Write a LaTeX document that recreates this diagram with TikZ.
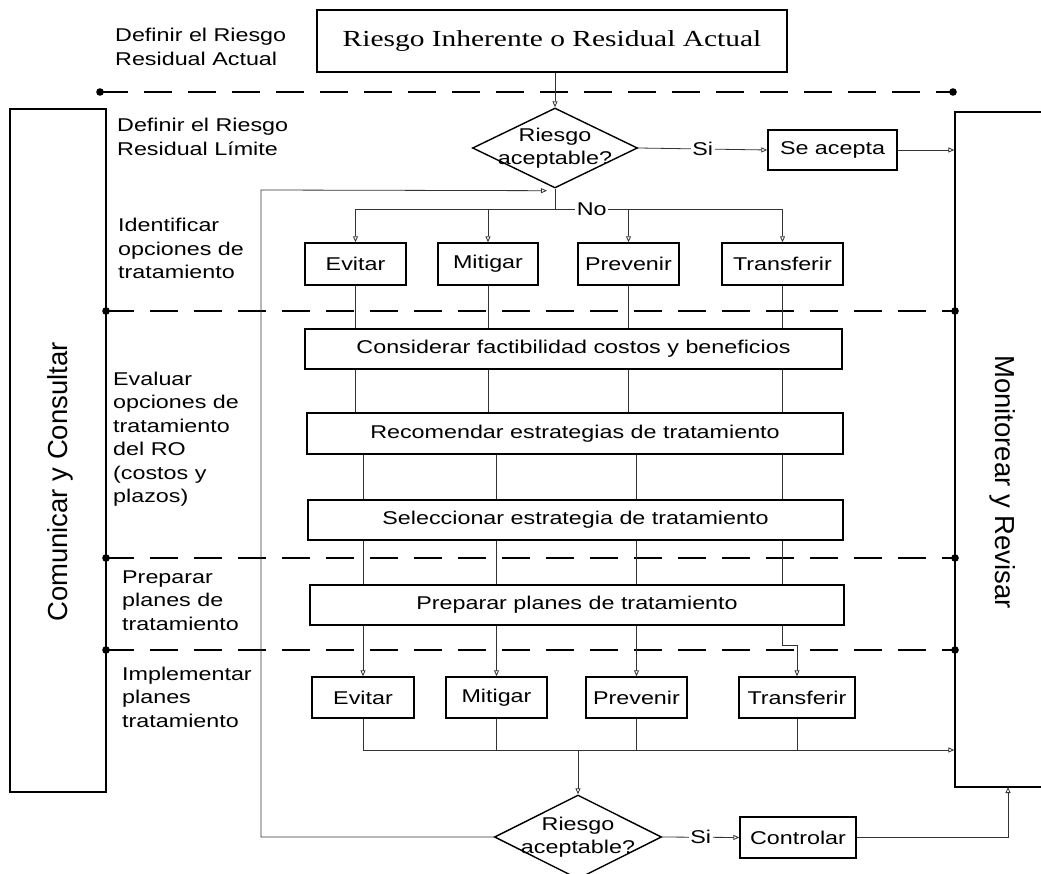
\documentclass[tikz,border=0pt]{standalone}
\usepackage{fontspec}
\setmainfont[FakeStretch=1.26]{Liberation Sans}
\newfontfamily\plainsans{Liberation Sans}
\newfontfamily\wserif[FakeStretch=1.28]{Liberation Serif}
\usetikzlibrary{shapes.geometric,arrows.meta,calc}
\newcommand\ztext[1]{\makebox[0pt]{\raisebox{-4.6pt}[0pt][0pt]{\begin{tabular}{@{}c@{}}#1\end{tabular}}}}
\newcommand\ltext[1]{\begin{tabular}[t]{@{}l@{}}#1\end{tabular}}
\begin{document}
\begin{tikzpicture}[x=1pt,y=-1pt,
  txt/.style={font=\fontsize{18.5}{23.5}\selectfont},
  box/.style={draw, line width=1.4pt, inner sep=0pt, txt},
  dia/.style={draw, diamond, line width=1.4pt, inner sep=0pt, txt},
  con/.style={line width=0.8pt, draw=black!80},
  arr/.style={con, -{Triangle[open,length=6pt,width=5pt]}},
  sep/.style={line width=1.6pt, dash pattern=on 28pt off 16pt},
  lbl/.style={txt, fill=white, inner sep=1.5pt},
  side/.style={txt, anchor=base west, inner sep=0pt},
  big/.style={font=\plainsans\fontsize{27.5}{32}\selectfont, inner sep=0pt},
]
\useasboundingbox (0,0) rectangle (1041,874);

% side boxes
\node[draw, line width=1.4pt, minimum width=96pt, minimum height=683pt, inner sep=0pt] (L) at (58,450.5) {};
\node[big, rotate=90] (Lt) at (60,482) {Comunicar y Consultar};
\node[draw, line width=1.4pt, minimum width=150pt, minimum height=675pt, inner sep=0pt] (R) at (1030,449.5) {};
\node[big, rotate=-90] (Rt) at (1003,482) {Monitorear y Revisar};

% separators
\coordinate (s0l) at (100,92);  \coordinate (s0r) at (953,92);
\coordinate (s1l) at (106,311); \coordinate (s1r) at (955,311);
\coordinate (s2l) at (106,558); \coordinate (s2r) at (955,558);
\coordinate (s3l) at (106,650); \coordinate (s3r) at (955,650);
\foreach \k in {0,1,2,3} {
  \draw[sep] (s\k l) -- (s\k r);
  \fill (s\k l) circle (3.8pt);
  \fill (s\k r) circle (3.8pt);
}

% phase labels
\node[side] (l1) at (115,42) {\ltext{Definir el Riesgo\\Residual Actual}};
\node[side] (l2) at (117,132) {\ltext{Definir el Riesgo\\Residual Límite}};
\node[side] (l3) at (118,232) {\ltext{Identificar\\opciones de\\tratamiento}};
\node[side] (l4) at (113,385) {\ltext{Evaluar\\opciones de\\tratamiento\\del RO\\(costos y\\plazos)}};
\node[side] (l5) at (122,583) {\ltext{Preparar\\planes de\\tratamiento}};
\node[side] (l6) at (122,680) {\ltext{Implementar\\planes\\tratamiento}};

% main nodes
\node[box, minimum width=470pt, minimum height=62pt, font=\wserif\fontsize{23}{28}\selectfont] (T) at (552,41) {Riesgo Inherente o Residual Actual};
\node[dia, minimum width=165pt, minimum height=80pt] (d1) at (555,148) {\ztext{Riesgo\\aceptable?}};
\node[box, minimum width=129pt, minimum height=40pt] (acc) at (832.5,150) {Se acepta};

\node[box, minimum width=101pt, minimum height=42pt] (e1) at (355.5,264) {Evitar};
\node[box, minimum width=100pt, minimum height=42pt] (m1) at (488,264) {Mitigar};
\node[box, minimum width=101pt, minimum height=42pt] (p1) at (628.5,264) {Prevenir};
\node[box, minimum width=121pt, minimum height=42pt] (t1) at (782.5,264) {Transferir};

\node[box, minimum width=537pt, minimum height=40pt] (B1) at (573.5,349) {Considerar factibilidad costos y beneficios};
\node[box, minimum width=536pt, minimum height=41pt] (B2) at (575,433.5) {Recomendar estrategias de tratamiento};
\node[box, minimum width=535pt, minimum height=40pt] (B3) at (575.5,520) {Seleccionar estrategia de tratamiento};
\node[box, minimum width=534pt, minimum height=40pt] (B4) at (577,605) {Preparar planes de tratamiento};

\node[box, minimum width=102pt, minimum height=41pt] (e2) at (363,697.5) {Evitar};
\node[box, minimum width=101pt, minimum height=41pt] (m2) at (496.5,697.5) {Mitigar};
\node[box, minimum width=101pt, minimum height=41pt] (p2) at (636.5,697.5) {Prevenir};
\node[box, minimum width=116pt, minimum height=41pt] (t2) at (797,697.5) {Transferir};

\node[dia, minimum width=167pt, minimum height=84pt] (d2) at (578,837) {\ztext{Riesgo\\aceptable?}};
\node[box, minimum width=116pt, minimum height=41pt] (ctrl) at (798,837.5) {Controlar};

% connectors
\draw[arr] (d1.north |- T.south) -- (d1.north);
\draw[arr] (d1.east) -- node[lbl]{Si} (acc.west);
\draw[arr] (acc.east) -- (acc.east -| R.west);

\coordinate (ns) at (555,209);
\draw[con] (d1.south) -- (ns);
\draw[arr] (ns) -| (e1.north);
\draw[arr] (ns) -| (m1.north);
\draw[arr] (ns) -| (t1.north);
\draw[arr] (ns) -| node[pos=0.25,lbl]{No} (p1.north);

\coordinate (fb) at (261,190);
\draw[arr] (d2.west) -| (fb) -- ($(d1.south)+(-8,2)$);

\foreach \a/\b in {e1/e2, m1/m2, p1/p2} {
  \draw[con] (\a.south) -- (\a.south |- B1.north);
  \draw[con] (\a.south |- B1.south) -- (\a.south |- B2.north);
  \draw[con] (\b.north |- B2.south) -- (\b.north |- B3.north);
  \draw[con] (\b.north |- B3.south) -- (\b.north |- B4.north);
  \draw[arr] (\b.north |- B4.south) -- (\b.north);
}
\draw[con] (t1.south) -- (t1.south |- B1.north);
\draw[con] (t1.south |- B1.south) -- (t1.south |- B2.north);
\draw[con] (t1.south |- B2.south) -- (t1.south |- B3.north);
\draw[con] (t1.south |- B3.south) -- (t1.south |- B4.north);
\draw[arr] (t1.south |- B4.south) -- ++(0,20) -| (t2.north);

\coordinate (by) at (0,750);
\draw[arr] (e2.south) |- (R.west |- by);
\foreach \n in {m2,p2,t2} \draw[con] (\n.south) -- (\n.south |- by);
\draw[arr] (d2.north |- by) -- (d2.north);

\draw[arr] (d2.east) -- node[lbl]{Si} (ctrl.west);
\coordinate (rin) at (1008,787);
\draw[arr] (ctrl.east) -| (rin);
\end{tikzpicture}
\end{document}
